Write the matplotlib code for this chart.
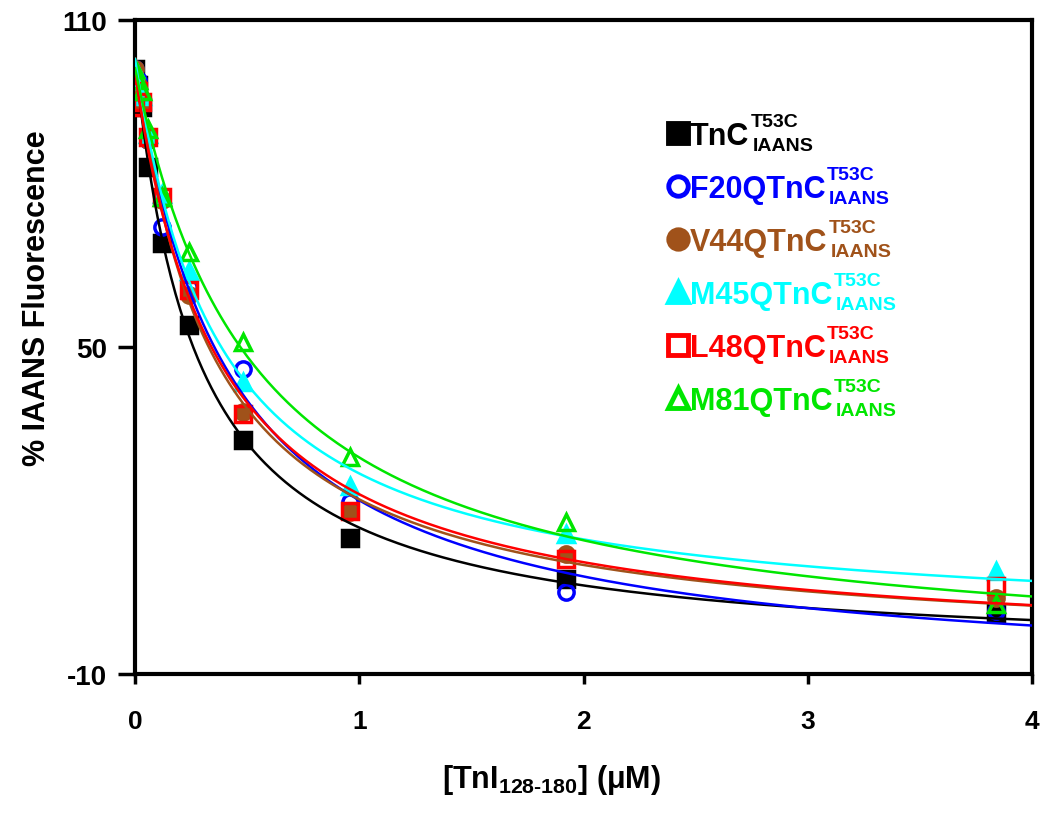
import numpy as np
import matplotlib
matplotlib.use('Agg')
import matplotlib.pyplot as plt
from matplotlib.lines import Line2D

plt.rcParams['font.family'] = ['Liberation Sans', 'DejaVu Sans']
plt.rcParams['font.weight'] = 'bold'
plt.rcParams['axes.unicode_minus'] = False
plt.rcParams['mathtext.fontset'] = 'custom'
plt.rcParams['mathtext.rm'] = 'Liberation Sans:bold'
plt.rcParams['mathtext.bf'] = 'Liberation Sans:bold'
plt.rcParams['mathtext.it'] = 'Liberation Sans:bold'

# [TnI128-180] in uM
conc = [0, 0.015, 0.03, 0.06, 0.12, 0.24, 0.48, 0.96, 1.92, 3.84]

# % IAANS fluorescence
tnc   = [101, 98, 94, 83, 69, 54, 33, 15, 7.4, 1.2]
f20q  = [101, 99, 95, 88, 72, 61, 46, 21.5, 5.0, 1.6]
v44q  = [101, 98, 95, 88, 77, 59.5, 38, 19.7, 12, 4.0]
m45q  = [101, 99, 96, 89, 78, 64, 43.5, 24.5, 15.7, 8.9]
l48q  = [94, 97, 95, 88.5, 77.5, 60.5, 37.7, 19.9, 11.1, 6.1]
m81q  = [101, 99, 97, 90, 77.5, 67.5, 51, 29.8, 17.9, 2.8]

series_names = ['TnC', 'F20QTnC', 'V44QTnC', 'M45QTnC', 'L48QTnC', 'M81QTnC']
series_vals = [tnc, f20q, v44q, m45q, l48q, m81q]
sup_text = 'T53C'
sub_text = 'IAANS'

colors = ['black', '#0000FF', '#A0521A', '#00FFFF', '#FF0000', '#00E600']
markers = ['s', 'o', 'o', '^', 's', '^']
filled = [True, False, True, True, False, False]


def fit_hyperbola(x, y):
    # y = bottom + span * K / (K + x); grid search on K, linear lstsq for the rest
    x = np.asarray(x, float)
    y = np.asarray(y, float)
    best = None
    for K in np.logspace(-3, 1, 1500):
        A = np.column_stack([np.ones_like(x), K / (K + x)])
        coef = np.linalg.lstsq(A, y, rcond=None)[0]
        err = np.sum((A @ coef - y) ** 2)
        if best is None or err < best[0]:
            best = (err, K, coef)
    _, K, coef = best
    return lambda xx: coef[0] + coef[1] * K / (K + xx)


W, H = 1050, 828
fig = plt.figure(figsize=(W / 100, H / 100), dpi=100)
ax = fig.add_axes([0.1286, 0.1848, 0.8544, 0.7898])

xx = np.linspace(0, 4, 400)
for vals, c, m, f in zip(series_vals, colors, markers, filled):
    fc = c if f else 'none'
    ax.plot(conc, vals, linestyle='none', marker=m, ms=11, mfc=fc, mec=c, mew=2.5, zorder=3)
    fit = fit_hyperbola(conc, vals)
    ax.plot(xx, fit(xx), color=c, lw=1.8, zorder=4)

ax.set_xlim(0, 4)
ax.set_ylim(-10, 110)
ax.set_xticks([0, 1, 2, 3, 4])
ax.set_yticks([-10, 50, 110])
ax.tick_params(axis='both', direction='out', width=2.5)
ax.tick_params(axis='y', length=12, pad=8, labelsize=20)
ax.tick_params(axis='x', length=7, pad=18, labelsize=19)
for sp in ax.spines.values():
    sp.set_linewidth(3)

ax.set_xlabel(r'[TnI$_{\mathbf{128\text{-}180}}$] ($\mu$M)', fontsize=22, fontweight='bold')
ax.xaxis.set_label_coords(0.464, -0.135)
ax.set_ylabel('% IAANS Fluorescence', fontsize=22, fontweight='bold')
ax.yaxis.set_label_coords(-0.093, 0.576)

# legend drawn by hand: marker, name, stacked super/subscript
renderer = fig.canvas.get_renderer()
leg_x = 690
leg_y0 = 145
leg_dy = 53
for i, (name, c, m, f) in enumerate(zip(series_names, colors, markers, filled)):
    yb = leg_y0 + i * leg_dy
    fc = c if f else 'none'
    fig.add_artist(Line2D([(leg_x - 12) / W], [1 - (yb - 11) / H], transform=fig.transFigure,
                          linestyle='none', marker=m, ms=14, mfc=fc, mec=c, mew=3.5))
    t = fig.text(leg_x / W, 1 - yb / H, name, color=c, fontsize=22, fontweight='bold',
                 ha='left', va='baseline')
    right = t.get_window_extent(renderer).x1
    fig.text((right + 1) / W, 1 - (yb - 18) / H, sup_text, color=c, fontsize=14,
             fontweight='bold', ha='left', va='baseline')
    fig.text((right + 3) / W, 1 - (yb + 6) / H, sub_text, color=c, fontsize=14,
             fontweight='bold', ha='left', va='baseline')

fig.savefig('out.png', dpi=100)
